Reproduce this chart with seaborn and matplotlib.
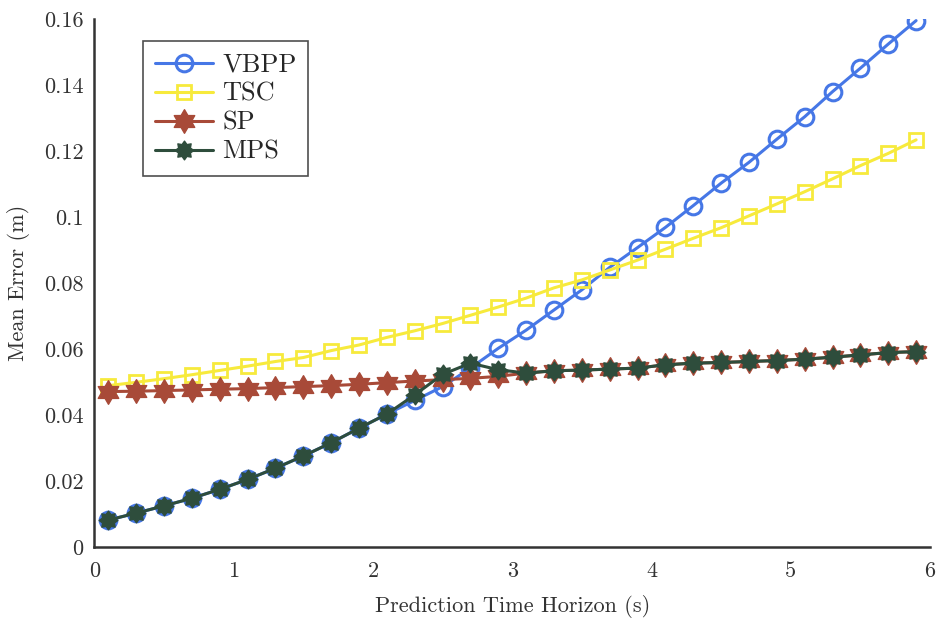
import numpy as np
import pandas as pd
import matplotlib
matplotlib.use("Agg")
import matplotlib.pyplot as plt
from matplotlib.path import Path
import seaborn as sns

# ---- data ----
horizon = [0.1, 0.3, 0.5, 0.7, 0.9, 1.1, 1.3, 1.5, 1.7, 1.9, 2.1, 2.3, 2.5, 2.7, 2.9,
           3.1, 3.3, 3.5, 3.7, 3.9, 4.1, 4.3, 4.5, 4.7, 4.9, 5.1, 5.3, 5.5, 5.7, 5.9]
vbpp = [0.0083, 0.0104, 0.0126, 0.0149, 0.0176, 0.0206, 0.0240, 0.0277, 0.0317, 0.0361,
        0.0404, 0.0445, 0.0487, 0.0543, 0.0603, 0.0658, 0.0719, 0.0780, 0.0848, 0.0908,
        0.0969, 0.1035, 0.1103, 0.1166, 0.1236, 0.1304, 0.1380, 0.1451, 0.1524, 0.1595]
tsc = [0.0490, 0.0500, 0.0511, 0.0523, 0.0536, 0.0549, 0.0563, 0.0575, 0.0596, 0.0613,
       0.0636, 0.0656, 0.0678, 0.0703, 0.0728, 0.0755, 0.0786, 0.0810, 0.0840, 0.0870,
       0.0903, 0.0936, 0.0968, 0.1004, 0.1040, 0.1077, 0.1116, 0.1156, 0.1193, 0.1234]
sp = [0.0472, 0.0473, 0.0475, 0.0477, 0.0479, 0.0481, 0.0484, 0.0487, 0.0490, 0.0494,
      0.0499, 0.0504, 0.0508, 0.0512, 0.0518, 0.0528, 0.0535, 0.0537, 0.0540, 0.0543,
      0.0553, 0.0558, 0.0560, 0.0563, 0.0566, 0.0570, 0.0576, 0.0583, 0.0590, 0.0593]
mps = [0.0083, 0.0104, 0.0126, 0.0149, 0.0176, 0.0206, 0.0240, 0.0277, 0.0317, 0.0361,
       0.0404, 0.0462, 0.0524, 0.0558, 0.0538, 0.0528, 0.0535, 0.0537, 0.0540, 0.0543,
       0.0553, 0.0558, 0.0560, 0.0563, 0.0566, 0.0570, 0.0576, 0.0583, 0.0590, 0.0593]

series_names = ["VBPP", "TSC", "SP", "MPS"]
series_values = [vbpp, tsc, sp, mps]
xticks = [0, 1, 2, 3, 4, 5, 6]
yticks = [0, 0.02, 0.04, 0.06, 0.08, 0.1, 0.12, 0.14, 0.16]
ytick_labels = ["0", "0.02", "0.04", "0.06", "0.08", "0.1", "0.12", "0.14", "0.16"]

# ---- style ----
sns.set_style("white")
plt.rcParams["font.family"] = ["cmr10", "DejaVu Serif"]
plt.rcParams["axes.formatter.use_mathtext"] = True

colors = {"VBPP": "#4677e6", "TSC": "#f7ea3c", "SP": "#a84a38", "MPS": "#2e4d3c"}
marker_kw = {
    "VBPP": dict(marker="o", markersize=12, markerfacecolor="none", markeredgewidth=2.2),
    "TSC": dict(marker="s", markersize=10.5, markerfacecolor="none", markeredgewidth=2.0),
    "SP": dict(marker=Path.unit_regular_star(6, 0.58), markersize=17, markeredgewidth=1.0),
    "MPS": dict(marker=Path.unit_regular_star(8, 0.68), markersize=13.5, markeredgewidth=1.0),
}

fig = plt.figure(figsize=(9.38, 6.2), dpi=100)
ax = fig.add_axes([0.1007, 0.117, 0.8908, 0.8524])

for name, vals in zip(series_names, series_values):
    df = pd.DataFrame({"x": horizon, "y": vals})
    kw = marker_kw[name]
    c = colors[name]
    extra = {} if kw.get("markerfacecolor") == "none" else {"markerfacecolor": c}
    sns.lineplot(data=df, x="x", y="y", ax=ax, color=c, linewidth=2.2,
                 markeredgecolor=c, label=name, **extra, **kw)

ax.set_xlim(0, 6)
ax.set_ylim(0, 0.16)
ax.set_xticks(xticks)
ax.set_xticklabels([str(t) for t in xticks])
ax.set_yticks(yticks)
ax.set_yticklabels(ytick_labels)
ax.tick_params(axis="both", length=0, labelsize=16, colors="#333333")
ax.tick_params(axis="x", pad=10)
ax.tick_params(axis="y", pad=8)

ax.set_xlabel("Prediction Time Horizon (s)", fontsize=16, color="#333333", labelpad=10)
ax.set_ylabel("Mean Error (m)", fontsize=16, color="#333333", labelpad=10)

for s in ["top", "right"]:
    ax.spines[s].set_visible(False)
for s in ["left", "bottom"]:
    ax.spines[s].set_color("#333333")
    ax.spines[s].set_linewidth(1.8)

leg = ax.legend(loc="upper left", bbox_to_anchor=(0.058, 0.958), fontsize=19,
                frameon=True, fancybox=False, edgecolor="#222222",
                handlelength=2.2, handletextpad=0.35, borderpad=0.45,
                labelspacing=0.2, borderaxespad=0)
leg.get_frame().set_linewidth(1.2)

fig.savefig("out.png", dpi=100)
